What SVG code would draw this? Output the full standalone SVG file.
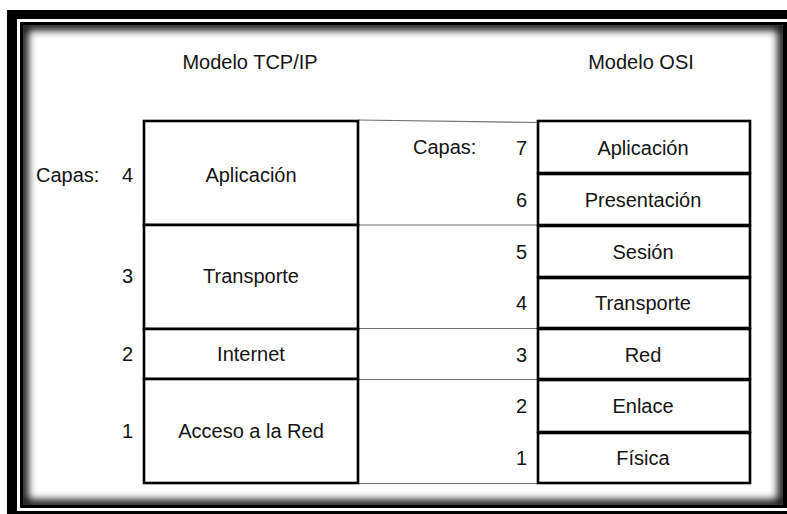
<svg xmlns="http://www.w3.org/2000/svg" width="787" height="514" viewBox="0 0 787 514">
  <style>
    .t { font-family: "Liberation Sans", Arial, sans-serif; font-size: 20px; fill: #141414; }
    .c { text-anchor: middle; }
    .r { text-anchor: end; }
    .box { fill: #fff; stroke: #000; stroke-width: 2.6; }
    .conn { stroke: #707070; stroke-width: 1.2; fill: none; }
  </style>
  <defs>
    <clipPath id="inner"><rect x="23" y="25" width="760" height="480"/></clipPath>
    <filter id="blur" x="-5%" y="-5%" width="110%" height="110%"><feGaussianBlur stdDeviation="4"/></filter>
  </defs>

  <!-- frame -->
  <g id="frame">
    <rect x="0" y="0" width="787" height="514" fill="#fff"/>
    <rect x="7" y="10" width="800" height="520" fill="#000"/>
    <rect x="17" y="19" width="790" height="492" fill="#fff"/>
    <rect x="20" y="22" width="790" height="486" fill="#000"/>
    <rect x="23" y="25" width="760" height="480" fill="#fff"/>
    <g clip-path="url(#inner)">
      <rect x="23" y="25" width="760" height="480" fill="none" stroke="#000" stroke-width="10" filter="url(#blur)"/>
    </g>
  </g>

  <!-- titles -->
  <g id="titles">
    <text class="t c" x="250" y="69">Modelo TCP/IP</text>
    <text class="t c" x="641" y="69">Modelo OSI</text>
  </g>

  <!-- connectors -->
  <g id="connectors">
    <line class="conn" x1="358" y1="120" x2="537" y2="122.5"/>
    <line class="conn" x1="358" y1="225" x2="537" y2="225"/>
    <line class="conn" x1="358" y1="328.5" x2="537" y2="328.5"/>
    <line class="conn" x1="358" y1="379.5" x2="537" y2="379.5"/>
    <line class="conn" x1="358" y1="483.5" x2="537" y2="483.5"/>
  </g>

  <!-- TCP/IP model -->
  <g id="tcp-labels">
    <text class="t" x="36" y="182">Capas:</text>
  </g>
  <g id="tcp-aplicacion">
    <rect class="box" x="144" y="121" width="214" height="104"/>
    <text class="t r" x="133" y="182">4</text>
    <text class="t c" x="251" y="182">Aplicación</text>
  </g>
  <g id="tcp-transporte">
    <rect class="box" x="144" y="225" width="214" height="104"/>
    <text class="t r" x="133" y="283">3</text>
    <text class="t c" x="251" y="283">Transporte</text>
  </g>
  <g id="tcp-internet">
    <rect class="box" x="144" y="329" width="214" height="50"/>
    <text class="t r" x="133" y="361">2</text>
    <text class="t c" x="251" y="361">Internet</text>
  </g>
  <g id="tcp-acceso">
    <rect class="box" x="144" y="379" width="214" height="104"/>
    <text class="t r" x="133" y="438">1</text>
    <text class="t c" x="251" y="438">Acceso a la Red</text>
  </g>

  <!-- OSI model -->
  <g id="osi-labels">
    <text class="t" x="413" y="154">Capas:</text>
  </g>
  <g id="osi-aplicacion">
    <rect class="box" x="538" y="121" width="212" height="52"/>
    <text class="t r" x="527" y="155">7</text>
    <text class="t c" x="643" y="155">Aplicación</text>
  </g>
  <g id="osi-presentacion">
    <rect class="box" x="538" y="174" width="212" height="51"/>
    <text class="t r" x="527" y="207">6</text>
    <text class="t c" x="643" y="207">Presentación</text>
  </g>
  <g id="osi-sesion">
    <rect class="box" x="538" y="226" width="212" height="51"/>
    <text class="t r" x="527" y="259">5</text>
    <text class="t c" x="643" y="259">Sesión</text>
  </g>
  <g id="osi-transporte">
    <rect class="box" x="538" y="278" width="212" height="50"/>
    <text class="t r" x="527" y="310">4</text>
    <text class="t c" x="643" y="310">Transporte</text>
  </g>
  <g id="osi-red">
    <rect class="box" x="538" y="329" width="212" height="50"/>
    <text class="t r" x="527" y="362">3</text>
    <text class="t c" x="643" y="362">Red</text>
  </g>
  <g id="osi-enlace">
    <rect class="box" x="538" y="380" width="212" height="52"/>
    <text class="t r" x="527" y="413">2</text>
    <text class="t c" x="643" y="413">Enlace</text>
  </g>
  <g id="osi-fisica">
    <rect class="box" x="538" y="433" width="212" height="50"/>
    <text class="t r" x="527" y="465">1</text>
    <text class="t c" x="643" y="465">Física</text>
  </g>
</svg>
